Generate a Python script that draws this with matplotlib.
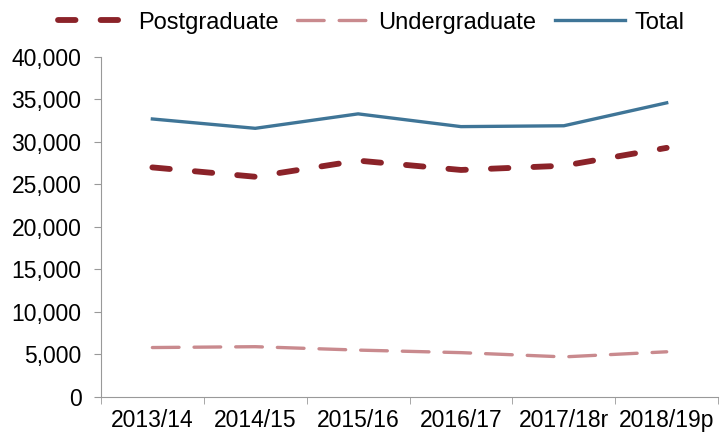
import matplotlib.pyplot as plt
import numpy as np

plt.rcParams['font.family'] = ['Liberation Sans', 'DejaVu Sans']

# Daten
years = ["2013/14", "2014/15", "2015/16", "2016/17", "2017/18r", "2018/19p"]
postgraduate = [27000, 25900, 27800, 26700, 27200, 29300]
undergraduate = [5800, 5900, 5500, 5200, 4700, 5300]
total = [32700, 31600, 33300, 31800, 31900, 34600]

fig = plt.figure(figsize=(7.21, 4.38), dpi=100)
ax = fig.add_axes([0.140, 0.094, 0.856, 0.776])

x = np.arange(len(years))
ax.plot(x, postgraduate, color='#8B2329', lw=4.2, dashes=(3.0, 4.3),
        solid_capstyle='round', dash_capstyle='round', label='Postgraduate')
ax.plot(x, undergraduate, color='#C98A8E', lw=2.4, dashes=(8.0, 4.5),
        dash_capstyle='round', label='Undergraduate')
ax.plot(x, total, color='#3F7597', lw=2.4, label='Total')

ax.set_xlim(-0.5, len(years) - 0.5)
ax.set_ylim(0, 40000)
ax.set_yticks(range(0, 40001, 5000))
ax.set_yticklabels([f"{v:,}" for v in range(0, 40001, 5000)], fontsize=16.5)
ax.set_xticks(x)
ax.set_xticklabels(years, fontsize=16.5)
ax.set_xticks(np.arange(-0.5, len(years)), minor=True)
ax.tick_params(axis='x', which='major', length=0, pad=9)
ax.tick_params(axis='x', which='minor', length=5, color='#999999')
ax.tick_params(axis='y', length=5, color='#999999', pad=9)

for side in ['top', 'right']:
    ax.spines[side].set_visible(False)
for side in ['left', 'bottom']:
    ax.spines[side].set_color('#999999')

fig.legend(loc='upper center', bbox_to_anchor=(0.515, 1.022), ncol=3, frameon=False,
           fontsize=17, handlelength=3.0, columnspacing=0.8, handletextpad=0.4)

plt.savefig('out.png', dpi=100)
